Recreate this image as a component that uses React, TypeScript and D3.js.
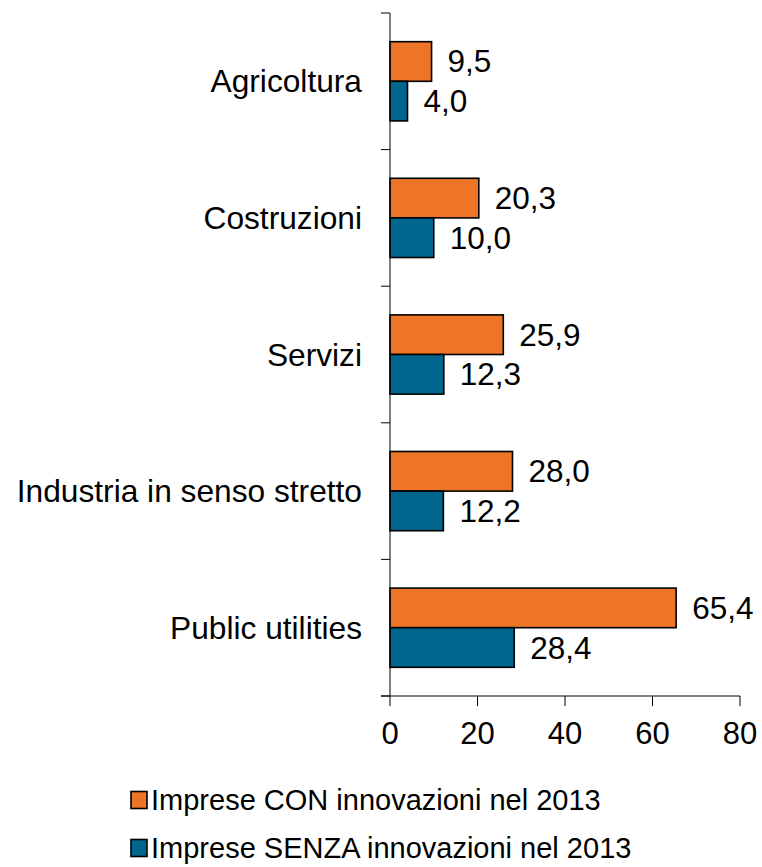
import React from "react";
import * as d3 from "d3";

const categories = ["Agricoltura", "Costruzioni", "Servizi", "Industria in senso stretto", "Public utilities"];
const seriesNames = ["Imprese CON innovazioni nel 2013", "Imprese SENZA innovazioni nel 2013"];
const conValues = [9.5, 20.3, 25.9, 28.0, 65.4];
const senzaValues = [4.0, 10.0, 12.3, 12.2, 28.4];
const xTicks = [0, 20, 40, 60, 80];
const colors = ["#EE7527", "#00668E"];

const W = 762;
const H = 867;
const FONT = "'Liberation Sans', Arial, sans-serif";

export default function App() {
  const x = d3.scaleLinear().domain([0, 80]).range([390, 740]);
  const y = d3.scaleBand<string>().domain(categories).range([13, 696]).paddingInner(0).paddingOuter(0);
  const bw = y.bandwidth();
  const barH = bw * 0.29;
  const fmt = (v: number) => v.toFixed(1).replace(".", ",");
  const series = [conValues, senzaValues];
  const boundaries = [...categories.map((c) => y(c) as number), 696];

  return (
    <div style={{ position: "absolute", left: 0, top: 0 }}>
      <svg width={W} height={H} style={{ display: "block", fontFamily: FONT }}>
        <rect width={W} height={H} fill="#fff" />
        {categories.map((c, i) => {
          const cy = (y(c) as number) + bw / 2;
          return (
            <g key={c}>
              {series.map((vals, s) => {
                const top = s === 0 ? cy - barH : cy;
                return (
                  <g key={s}>
                    <rect
                      x={x(0)}
                      y={top}
                      width={x(vals[i]) - x(0)}
                      height={barH}
                      fill={colors[s]}
                      stroke="#000"
                      strokeWidth={1.6}
                    />
                    <text
                      x={x(vals[i]) + 16}
                      y={top + barH / 2}
                      dominantBaseline="central"
                      fontSize={31.5}
                      fill="#000"
                    >
                      {fmt(vals[i])}
                    </text>
                  </g>
                );
              })}
              <text x={362} y={cy} textAnchor="end" dominantBaseline="central" fontSize={31.7} fill="#000">
                {c}
              </text>
            </g>
          );
        })}
        {/* y axis */}
        <line x1={390} x2={390} y1={13} y2={696} stroke="#000" strokeWidth={1} />
        {boundaries.map((b, i) => (
          <line key={i} x1={381} x2={390} y1={b} y2={b} stroke="#000" strokeWidth={1} />
        ))}
        {/* x axis */}
        <line x1={381} x2={740} y1={696} y2={696} stroke="#000" strokeWidth={1} />
        {xTicks.map((t) => (
          <g key={t}>
            <line x1={x(t)} x2={x(t)} y1={696} y2={706} stroke="#000" strokeWidth={1} />
            <text x={x(t)} y={733} textAnchor="middle" dominantBaseline="central" fontSize={31} fill="#000">
              {t}
            </text>
          </g>
        ))}
        {/* legend */}
        {seriesNames.map((n, s) => {
          const cy = 800 + s * 48;
          return (
            <g key={n}>
              <rect x={131} y={cy - 8.5} width={16} height={17} fill={colors[s]} stroke="#000" strokeWidth={1.6} />
              <text x={151} y={cy} dominantBaseline="central" fontSize={29} fill="#000">
                {n}
              </text>
            </g>
          );
        })}
      </svg>
    </div>
  );
}
